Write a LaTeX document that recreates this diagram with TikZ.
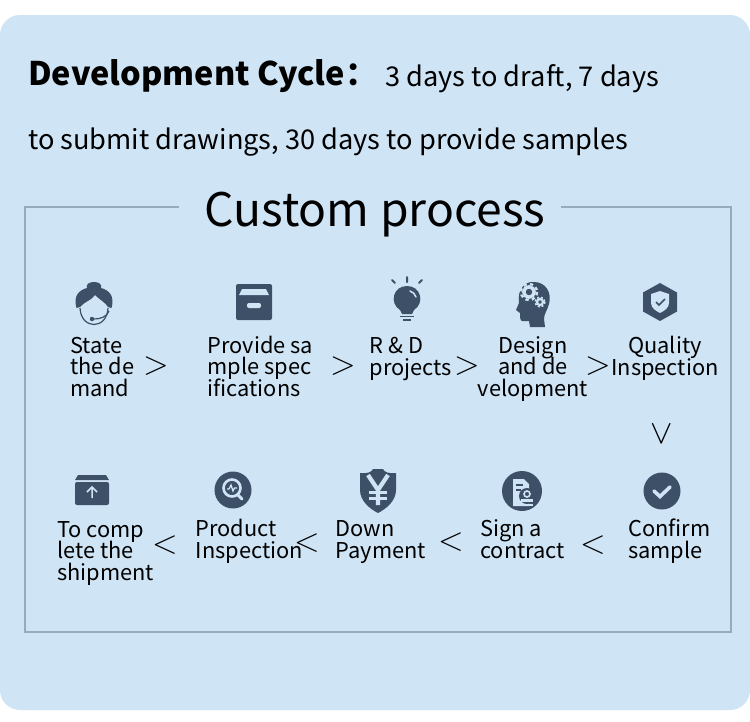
\documentclass[tikz,border=0pt]{standalone}
\usepackage{fontspec}
\setmainfont{Noto Sans CJK SC}
\usetikzlibrary{positioning}

\definecolor{panelblue}{HTML}{CFE4F5}
\definecolor{framegray}{HTML}{96ACBE}
\definecolor{icondark}{HTML}{3E5068}

\tikzset{
  steplabel/.style = {inner sep = 0pt, align = left, anchor = base west,
    font = \fontsize{21.8}{21.5}\selectfont},
  stepmid/.style = {steplabel, align = center, anchor = base},
  chevron/.style = {inner sep = 0pt, scale = 1.35, font = \fontsize{34}{34}\selectfont},
  agent/.pic = {
    \fill[icondark] (-17.5,6) .. controls (-21,-6) and (-15,-12) .. (-7,-14)
      .. controls (-10,-22) and (10,-22) .. (7,-14)
      .. controls (15,-12) and (21,-6) .. (17.5,6)
      -- (14,5) .. controls (12,1) and (6,-2) .. (1,-7)
      .. controls (-2,-2) and (-10,0) .. (-14,5) -- cycle;
    \draw[icondark, line width = 1.2pt] (-14,6) .. controls (-13,28) and (13,28) .. (14,6);
    \draw[icondark, line width = 1.2pt] (15,9) .. controls (13,15) and (6,17) .. (0,17);
    \fill[icondark] (-2,17) circle (2.2);
  },
  archive/.pic = {
    \fill[icondark, rounded corners = 2pt] (-18,-18) rectangle (18,18);
    \fill[panelblue] (-12,-13) -- (12,-13) -- (15,-7) -- (-15,-7) -- cycle;
    \fill[panelblue, rounded corners = 2pt] (-7,1) rectangle (7,6);
  },
  bulb/.pic = {
    \fill[icondark] (-7,10) .. controls (-18,3) and (-14,-14) .. (0,-14)
      .. controls (14,-14) and (18,3) .. (7,10) -- (5,14) -- (-5,14) -- cycle;
    \draw[panelblue, line width = 1.5pt, line cap = round] (3,-9) .. controls (6,-8) and (8,-6) .. (9,-3);
    \draw[icondark, line width = 1.8pt] (-7,16.5) -- (7,16.5) (-4,20) -- (4,20);
    \draw[icondark, line width = 2pt, line cap = round] (0,-23) -- (0,-18) (-15,-20) -- (-12,-17) (15,-20) -- (12,-17);
  },
  gearhead/.pic = {
    \fill[icondark] (-2,25) -- (-3,19) -- (-10,19) .. controls (-12,19) and (-12,14) .. (-12,11)
      -- (-16,8) -- (-13,1) .. controls (-15,-14) and (-6,-21) .. (2,-20)
      .. controls (14,-20) and (20,-9) .. (17,2) .. controls (15,9) and (12,12) .. (12,17) -- (13,25) -- cycle;
    \draw[panelblue, line width = 3.4pt] (-3,-10) circle (5.2);
    \draw[panelblue, line width = 2.4pt, dash pattern = on 3.2pt off 3.2pt] (-3,-10) circle (8);
    \draw[panelblue, line width = 2.2pt] (8,0) circle (3);
    \draw[panelblue, line width = 1.6pt, dash pattern = on 2pt off 2pt] (8,0) circle (5);
  },
  hexshield/.pic = {
    \fill[icondark] (0,-19) -- (17,-9.5) -- (17,9.5) -- (0,19) -- (-17,9.5) -- (-17,-9.5) -- cycle;
    \fill[panelblue] (0,-11) -- (9,-8) -- (9,1) .. controls (9,6) and (4,9) .. (0,11)
      .. controls (-4,9) and (-9,6) .. (-9,1) -- (-9,-8) -- cycle;
    \draw[icondark, line width = 1.6pt] (-4,0) -- (-1,3) -- (5,-3);
  },
  outbox/.pic = {
    \fill[icondark] (-17,-10) -- (-14,-15) -- (14,-15) -- (17,-10) -- cycle;
    \fill[icondark, rounded corners = 2pt] (-17,-8) rectangle (17,15);
    \draw[panelblue, line width = 1.5pt] (0,8) -- (0,-2) (-5,2) -- (0,-3) -- (5,2);
  },
  lens/.pic = {
    \fill[icondark] (0,0) circle (18.5);
    \draw[panelblue, line width = 2.6pt] (-1,-2) circle (8.5);
    \draw[panelblue, line width = 3pt, line cap = round] (5,5) -- (9,9);
    \draw[panelblue, line width = 1.3pt] (-6,-1) -- (-4,-1) -- (-2,-5) -- (0,1) -- (1.5,-2) -- (4,-2);
  },
  yenshield/.pic = {
    \fill[icondark] (-18,-17) .. controls (-11,-16) and (-6,-18) .. (-5,-21) -- (5,-21)
      .. controls (6,-18) and (11,-16) .. (18,-17) -- (18,0)
      .. controls (18,11) and (8,19) .. (0,23) .. controls (-8,19) and (-18,11) .. (-18,0) -- cycle;
    \draw[panelblue, line width = 4.2pt] (-10,-15) -- (0,0) -- (10,-15) (0,0) -- (0,15);
    \draw[panelblue, line width = 3pt] (-9,2) -- (9,2) (-9,8) -- (9,8);
  },
  contractseal/.pic = {
    \fill[icondark] (0,0) circle (20);
    \fill[panelblue] (-9,-12) -- (2,-12) -- (7,-7) -- (7,15) -- (-9,15) -- cycle;
    \draw[icondark, line width = 1.5pt] (-6,-6) -- (1,-6) (-6,-1) -- (-1,-1);
    \fill[icondark] (5,5) circle (8);
    \draw[panelblue, line width = 1.6pt] (5,3) circle (3);
    \fill[panelblue] (-1,8) rectangle (11,11);
    \fill[panelblue] (-1,12.5) rectangle (11,15);
  },
  tickdisc/.pic = {
    \fill[icondark] (0,0) circle (18.5);
    \draw[panelblue, line width = 3.6pt, line cap = round] (-8,0) -- (-2,5.5) -- (8,-4);
  },
}

\begin{document}
\lineskiplimit=-30pt
\begin{tikzpicture}[x = 1pt, y = -1pt]
    \useasboundingbox (0,0) rectangle (750,721);
    \fill[white] (0,0) rectangle (750,721);
    \fill[panelblue, rounded corners = 20pt] (0,15) rectangle (750,710);

    % heading
    \node[inner sep = 0pt, anchor = base west] (cycle) at (28,85)
      {\fontsize{32.5}{32.5}\selectfont\bfseries Development Cycle：};
    \node[inner sep = 0pt, anchor = base west] (draft) at (385,86)
      {\fontsize{27.2}{27.2}\selectfont 3 days to draft, 7 days};
    \node[inner sep = 0pt, anchor = base west] (samples) at (28,149)
      {\fontsize{27.2}{27.2}\selectfont to submit drawings, 30 days to provide samples};

    % frame with the gap for the title
    \node[inner sep = 0pt, anchor = base] (title) at (375,226)
      {\fontsize{46.2}{46.2}\selectfont Custom process};
    \coordinate (gapl) at (179,207);
    \coordinate (gapr) at (561,207);
    \draw[framegray, line width = 1.8pt] (gapl) -- (25,207) -- (25,632) -- (731,632) -- (731,207) -- (gapr);

    % first row
    \pic at (94,302) {agent};
    \pic at (254,302) {archive};
    \pic at (407,300) {bulb};
    \pic at (532,302) {gearhead};
    \pic at (660,302) {hexshield};

    \node[steplabel] (state) at (70,396) {State\\the de\\mand};
    \node[steplabel] (provide) at (207.5,396) {Provide sa\\mple spec\\ifications};
    \node[steplabel] (rd) at (369.5,375) {R \& D\\projects};
    \node[stepmid] (design) at (533,396) {Design\\and de\\velopment};
    \node[stepmid] (quality) at (665,375) {Quality\\Inspection};

    \node[chevron] (s1) at (156,366) {$>$};
    \node[chevron] (s2) at (343,366) {$>$};
    \node[chevron] (s3) at (467,366) {$>$};
    \node[chevron] (s4) at (598,366) {$>$};
    \node[chevron] (s5) at (662,434) {$\vee$};

    % second row
    \pic at (92,490) {outbox};
    \pic at (233,490) {lens};
    \pic at (378,490) {yenshield};
    \pic at (522,491) {contractseal};
    \pic at (662,491) {tickdisc};

    \node[steplabel] (complete) at (57,580) {To comp\\lete the\\shipment};
    \node[steplabel] (product) at (195.5,558) {Product\\Inspection};
    \node[steplabel] (down) at (335.5,558) {Down\\Payment};
    \node[steplabel] (sign) at (480,558) {Sign a\\contract};
    \node[steplabel] (confirm) at (628,558) {Confirm\\sample};

    \node[chevron] (s6) at (593,545) {$<$};
    \node[chevron] (s7) at (451,542) {$<$};
    \node[chevron] (s8) at (307,543) {$<$};
    \node[chevron] (s9) at (165,545) {$<$};
\end{tikzpicture}
\end{document}
